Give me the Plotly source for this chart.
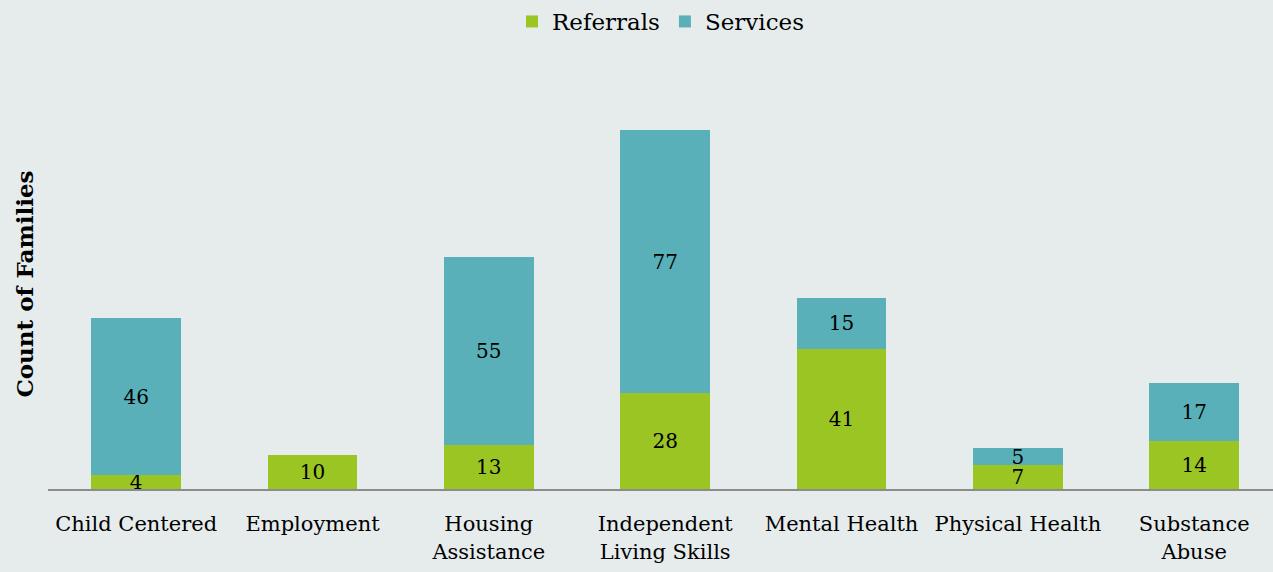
import plotly.graph_objects as go

categories = ["Child Centered", "Employment", "Housing<br>Assistance", "Independent<br>Living Skills",
              "Mental Health", "Physical Health", "Substance<br>Abuse"]
referrals = [4, 10, 13, 28, 41, 7, 14]
services = [46, None, 55, 77, 15, 5, 17]

GREEN = "#9BC523"
TEAL = "#5AB0B9"
BG = "#E6ECEC"
FONT = "DejaVu Serif"

fig = go.Figure()
fig.add_trace(go.Bar(name="Referrals", x=categories, y=referrals, marker_color=GREEN,
                     marker_line_width=0, width=0.51,
                     text=referrals, textposition="inside", insidetextanchor="middle",
                     constraintext="none", textangle=0,
                     textfont=dict(color="black", size=20, family=FONT),
                     cliponaxis=False))
fig.add_trace(go.Bar(name="Services", x=categories, y=services, marker_color=TEAL,
                     marker_line_width=0, width=0.51,
                     text=[s if s is not None else "" for s in services], textposition="inside",
                     insidetextanchor="middle", constraintext="none", textangle=0,
                     textfont=dict(color="black", size=20, family=FONT), cliponaxis=False))

fig.update_layout(
    barmode="stack",
    width=1273, height=572,
    paper_bgcolor=BG, plot_bgcolor=BG,
    margin=dict(l=48, r=0, t=79, b=83),
    font=dict(family=FONT, size=21, color="black"),
    legend=dict(orientation="h", x=0.5, xanchor="center", y=1.0, yref="container",
                yanchor="top", font=dict(size=23), itemsizing="constant",
                traceorder="normal", bgcolor="rgba(0,0,0,0)"),
    xaxis=dict(range=[-0.5, 6.447], showline=True, linecolor="#8C8C8C", linewidth=2,
               showgrid=False, ticks="", tickfont=dict(size=21), ticklabelstandoff=15),
    yaxis=dict(range=[0, 120], showgrid=False, showticklabels=False, zeroline=False,
               title=dict(text="<b>Count of Families</b>", font=dict(size=23), standoff=6)),
    showlegend=True,
)

fig.write_html("out.html", config={"displayModeBar": False},
               post_script="document.body.style.margin='0';")
